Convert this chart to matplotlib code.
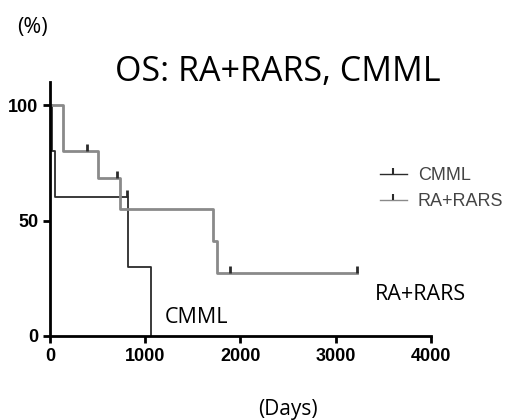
import matplotlib.pyplot as plt
from matplotlib.lines import Line2D

# %% Data
cmml_days = [0, 25, 55, 820, 1060]
cmml_surv = [100, 80, 60, 30, 0]
cmml_cens_days = [810]
cmml_cens_surv = [60]

ra_days = [0, 140, 508, 735, 1715, 1758, 3222]
ra_surv = [100, 80, 68.6, 54.9, 41.1, 27.4, 27.4]
ra_cens_days = [385, 700, 1890, 3222]
ra_cens_surv = [80, 68.6, 27.4, 27.4]

x_ticks = [0, 1000, 2000, 3000, 4000]
y_ticks = [0, 50, 100]

# %% Plot
plt.rcParams['font.family'] = ['Liberation Sans', 'DejaVu Sans']
fig = plt.figure(figsize=(5.1, 4.2), dpi=100)
ax = fig.add_axes([0.098, 0.2, 0.7465, 0.605])

cmml_col = '#2b2b2b'
ra_col = '#8a8a8a'

ax.step(cmml_days, cmml_surv, where='post', color=cmml_col, lw=1.3)
ax.step(ra_days, ra_surv, where='post', color=ra_col, lw=2.0)
ax.plot(cmml_cens_days, cmml_cens_surv, ls='none', marker=2, ms=5,
        mew=2, color=cmml_col)
ax.plot(ra_cens_days, ra_cens_surv, ls='none', marker=2, ms=5,
        mew=2, color=cmml_col)

ax.set_xlim(0, 4000)
ax.set_ylim(0, 110)
ax.set_xticks(x_ticks)
ax.set_yticks(y_ticks)
ax.spines['top'].set_visible(False)
ax.spines['right'].set_visible(False)
ax.spines['left'].set_linewidth(2)
ax.spines['bottom'].set_linewidth(2)
ax.tick_params(width=2, length=5, labelsize=13)
for lab in ax.get_xticklabels() + ax.get_yticklabels():
    lab.set_fontweight('bold')

handles = [
    Line2D([], [], color=cmml_col, lw=1.0, marker=2, ms=4, mew=1.5),
    Line2D([], [], color=ra_col, lw=1.0, marker=2, ms=4, mew=1.5,
           mec=cmml_col),
]
leg = fig.legend(handles, ['CMML', 'RA+RARS'], loc='upper left',
                 bbox_to_anchor=(0.713, 0.64), frameon=False, fontsize=13,
                 handlelength=1.5, handletextpad=0.6, labelspacing=0.5,
                 numpoints=1)
for t in leg.get_texts():
    t.set_color('#444444')

ax.text(1210, 5.6, 'CMML', fontsize=15.5, family='Open Sans', va='baseline')
ax.text(3410, 15.6, 'RA+RARS', fontsize=15.5, family='Open Sans',
        va='baseline')

fig.text(0.545, 0.807, 'OS: RA+RARS, CMML', fontsize=24.5, family='Open Sans',
         ha='center', va='baseline')
fig.text(0.033, 0.921, '(%)', fontsize=15.5, family='Open Sans',
         va='baseline')
fig.text(0.565, 0.012, '(Days)', fontsize=15, family='Open Sans',
         ha='center', va='baseline')

fig.savefig('out.png', dpi=100)
